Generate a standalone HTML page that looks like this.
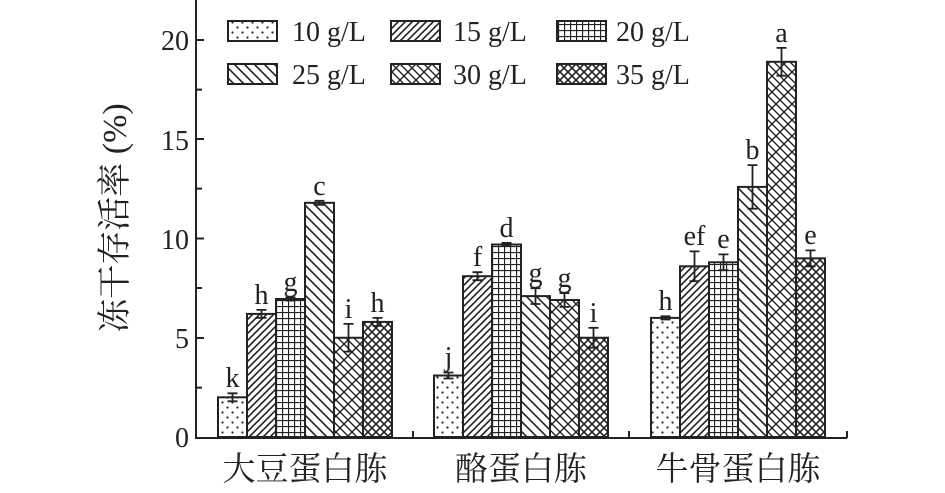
<!DOCTYPE html>
<html><head><meta charset="utf-8"><style>html,body{margin:0;padding:0;background:#fff}</style></head>
<body>
<svg width="945" height="488" viewBox="0 0 945 488" xmlns="http://www.w3.org/2000/svg" font-family="'Liberation Serif','Noto Serif CJK SC',serif">
<defs>
<pattern id="p1" width="10" height="10" patternUnits="userSpaceOnUse"><circle cx="2.5" cy="2.5" r="1.1" fill="#222"/><circle cx="7.5" cy="7.5" r="1.1" fill="#222"/></pattern>
<pattern id="p2" width="7" height="7" patternUnits="userSpaceOnUse"><path d="M-1,8 L8,-1 M-1,1 L1,-1 M6,8 L8,6" stroke="#222" stroke-width="1.6"/></pattern>
<pattern id="p3" width="6" height="6" patternUnits="userSpaceOnUse"><path d="M0,0.5 H6 M0.5,0 V6" stroke="#222" stroke-width="1.3"/></pattern>
<pattern id="p4" width="10" height="10" patternUnits="userSpaceOnUse"><path d="M-1,-1 L11,11 M-1,9 L1,11 M9,-1 L11,1" stroke="#222" stroke-width="1.6"/></pattern>
<pattern id="p5" width="16" height="16" patternUnits="userSpaceOnUse"><path d="M-1,-1 L17,17 M-1,7 L9,17 M7,-1 L17,9 M-1,17 L17,-1" stroke="#222" stroke-width="1.4"/></pattern>
<pattern id="p6" width="8" height="8" patternUnits="userSpaceOnUse"><path d="M-1,-1 L9,9 M-1,9 L9,-1" stroke="#222" stroke-width="1.6"/></pattern>
</defs>
<g font-size="28" fill="#222">
<rect x="228" y="21" width="49" height="20" fill="url(#p1)" stroke="#222" stroke-width="2"/><text x="292" y="41">10 g/L</text>
<rect x="391" y="21" width="49" height="20" fill="url(#p2)" stroke="#222" stroke-width="2"/><text x="453" y="41">15 g/L</text>
<rect x="557" y="21" width="49" height="20" fill="url(#p3)" stroke="#222" stroke-width="2"/><text x="616" y="41">20 g/L</text>
<rect x="228" y="64" width="49" height="20" fill="url(#p4)" stroke="#222" stroke-width="2"/><text x="292" y="84">25 g/L</text>
<rect x="391" y="64" width="49" height="20" fill="url(#p5)" stroke="#222" stroke-width="2"/><text x="453" y="84">30 g/L</text>
<rect x="557" y="64" width="49" height="20" fill="url(#p6)" stroke="#222" stroke-width="2"/><text x="616" y="84">35 g/L</text>
<g text-anchor="end">
<text x="189" y="447">0</text><text x="189" y="348">5</text><text x="189" y="249">10</text><text x="189" y="150">15</text><text x="189" y="50">20</text>
</g>
<text transform="translate(126,218) rotate(-90)" text-anchor="middle" font-size="34">冻干存活率 (%)</text>
<text x="305" y="480" text-anchor="middle" font-size="33">大豆蛋白胨</text>
<text x="521" y="480" text-anchor="middle" font-size="33">酪蛋白胨</text>
<text x="738" y="480" text-anchor="middle" font-size="33">牛骨蛋白胨</text>
</g>
<g stroke="#222" stroke-width="2">
<rect x="218" y="397.3" width="29" height="39.7" fill="url(#p1)"/>
<rect x="247" y="313.9" width="29" height="123.1" fill="url(#p2)"/>
<rect x="276" y="299" width="29" height="138" fill="url(#p3)"/>
<rect x="305" y="202.8" width="29" height="234.2" fill="url(#p4)"/>
<rect x="334" y="337.75" width="29" height="99.25" fill="url(#p5)"/>
<rect x="363" y="321.9" width="29" height="115.1" fill="url(#p6)"/>
<rect x="434" y="375.5" width="29" height="61.5" fill="url(#p1)"/>
<rect x="463" y="276.2" width="29" height="160.8" fill="url(#p2)"/>
<rect x="492" y="244.5" width="29" height="192.5" fill="url(#p3)"/>
<rect x="521" y="296.1" width="29" height="140.9" fill="url(#p4)"/>
<rect x="550" y="300" width="29" height="137" fill="url(#p5)"/>
<rect x="579" y="337.75" width="29" height="99.25" fill="url(#p6)"/>
<rect x="651" y="317.9" width="29" height="119.1" fill="url(#p1)"/>
<rect x="680" y="266.3" width="29" height="170.7" fill="url(#p2)"/>
<rect x="709" y="262.3" width="29" height="174.7" fill="url(#p3)"/>
<rect x="738" y="186.9" width="29" height="250.1" fill="url(#p4)"/>
<rect x="767" y="61.8" width="29" height="375.2" fill="url(#p5)"/>
<rect x="796" y="258.35" width="29" height="178.65" fill="url(#p6)"/>
</g>
<g stroke="#222" stroke-width="1.8" fill="none">
<path d="M232.5,393.3V401.3M227.5,393.3h10M227.5,401.3h10"/>
<path d="M261.5,309.9V317.9M256.5,309.9h10M256.5,317.9h10"/>
<path d="M290.5,297.4V300.6M285.5,297.4h10M285.5,300.6h10"/>
<path d="M319.5,200.8V204.8M314.5,200.8h10M314.5,204.8h10"/>
<path d="M348.5,323.9V351.6M343.5,323.9h10M343.5,351.6h10"/>
<path d="M377.5,317.9V325.9M372.5,317.9h10M372.5,325.9h10"/>
<path d="M448.5,372.5V378.5M443.5,372.5h10M443.5,378.5h10"/>
<path d="M477.5,272.2V280.2M472.5,272.2h10M472.5,280.2h10"/>
<path d="M506.5,242.9V246.1M501.5,242.9h10M501.5,246.1h10"/>
<path d="M535.5,288.2V304M530.5,288.2h10M530.5,304h10"/>
<path d="M564.5,293.1V306.9M559.5,293.1h10M559.5,306.9h10"/>
<path d="M593.5,327.8V347.7M588.5,327.8h10M588.5,347.7h10"/>
<path d="M665.5,316.3V319.5M660.5,316.3h10M660.5,319.5h10"/>
<path d="M694.5,251.4V281.2M689.5,251.4h10M689.5,281.2h10"/>
<path d="M723.5,254.4V270.2M718.5,254.4h10M718.5,270.2h10"/>
<path d="M752.5,165.1V208.7M747.5,165.1h10M747.5,208.7h10"/>
<path d="M781.5,47.9V75.7M776.5,47.9h10M776.5,75.7h10"/>
<path d="M810.5,250.4V266.3M805.5,250.4h10M805.5,266.3h10"/>
</g>
<g font-size="28" fill="#222" text-anchor="middle">
<text x="232.5" y="387">k</text><text x="261.5" y="304">h</text><text x="290.5" y="291">g</text><text x="319.5" y="195">c</text><text x="348.5" y="318">i</text><text x="377.5" y="312">h</text>
<text x="448.5" y="366">j</text><text x="477.5" y="266">f</text><text x="506.5" y="237">d</text><text x="535.5" y="282">g</text><text x="564.5" y="287">g</text><text x="593.5" y="322">i</text>
<text x="665.5" y="310">h</text><text x="694.5" y="245">ef</text><text x="723.5" y="248">e</text><text x="752.5" y="159">b</text><text x="781.5" y="42">a</text><text x="810.5" y="244">e</text>
</g>
<g stroke="#222" stroke-width="2" fill="none">
<path d="M196,0 V438 H847"/>
<path d="M196,40 h8 M196,89.6 h6 M196,139 h8 M196,188.6 h6 M196,238.5 h8 M196,288 h6 M196,338 h8 M196,387.6 h6 M413,438 v-7 M629,438 v-7 M847,438 v-7"/>
</g>
</svg>
</body></html>
